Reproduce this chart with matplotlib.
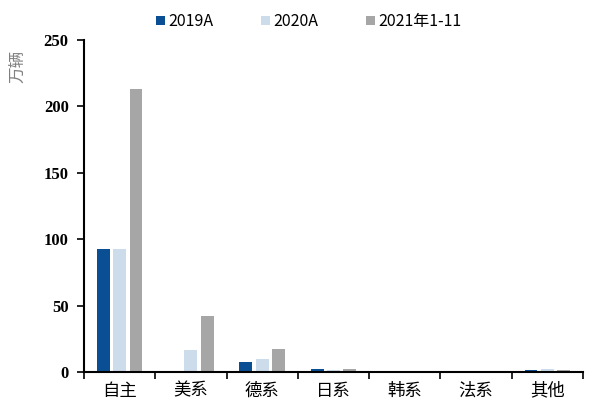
import numpy as np
import matplotlib.pyplot as plt

plt.rcParams['font.family'] = ['Noto Sans CJK SC', 'DejaVu Sans']

categories = ['自主', '美系', '德系', '日系', '韩系', '法系', '其他']
series_names = ['2019A', '2020A', '2021年1-11']
v2019 = [92.5, 0.0, 7.5, 2.5, 0.3, 0.2, 1.3]
v2020 = [92.5, 16.5, 9.8, 1.5, 0.2, 0.1, 2.5]
v2021 = [213.5, 42.5, 17.3, 2.5, 0.3, 0.2, 1.8]
colors = ['#0A4F94', '#CCDCEB', '#A6A6A6']

fig = plt.figure(figsize=(6.08, 4.01), dpi=100)
ax = fig.add_axes([0.138, 0.0723, 0.821, 0.8277])

x = np.arange(len(categories))
w = 0.18
step = 0.23
for i, vals in enumerate([v2019, v2020, v2021]):
    ax.bar(x + (i - 1) * step, vals, width=w, color=colors[i], label=series_names[i])

ax.set_xlim(-0.5, len(categories) - 0.5)
ax.set_ylim(0, 250)
ax.set_yticks(range(0, 251, 50))
ax.set_yticklabels([str(v) for v in range(0, 251, 50)],
                   family='Liberation Serif', fontweight='bold', fontsize=12)
ax.set_xticks(x)
ax.set_xticklabels(categories, fontsize=12.5)
ax.set_xticks(np.arange(-0.5, len(categories), 1), minor=True)
ax.tick_params(axis='x', which='major', length=0, pad=7)
ax.tick_params(axis='x', which='minor', length=5, width=1.2, direction='out')
ax.tick_params(axis='y', length=5, width=1.2, direction='out', pad=6)

for s in ['top', 'right']:
    ax.spines[s].set_visible(False)
for s in ['left', 'bottom']:
    ax.spines[s].set_linewidth(1.5)
    ax.spines[s].set_color('black')

fig.text(0.03, 0.835, '万辆', rotation=90, color='#808080', fontsize=12,
         ha='center', va='center')

ax.legend(loc='upper center', bbox_to_anchor=(0.45, 1.125), ncol=3, frameon=False,
          fontsize=11.5, handlelength=0.55, handleheight=0.55, handletextpad=0.2,
          columnspacing=3.0)

fig.savefig('out.png', dpi=100)
